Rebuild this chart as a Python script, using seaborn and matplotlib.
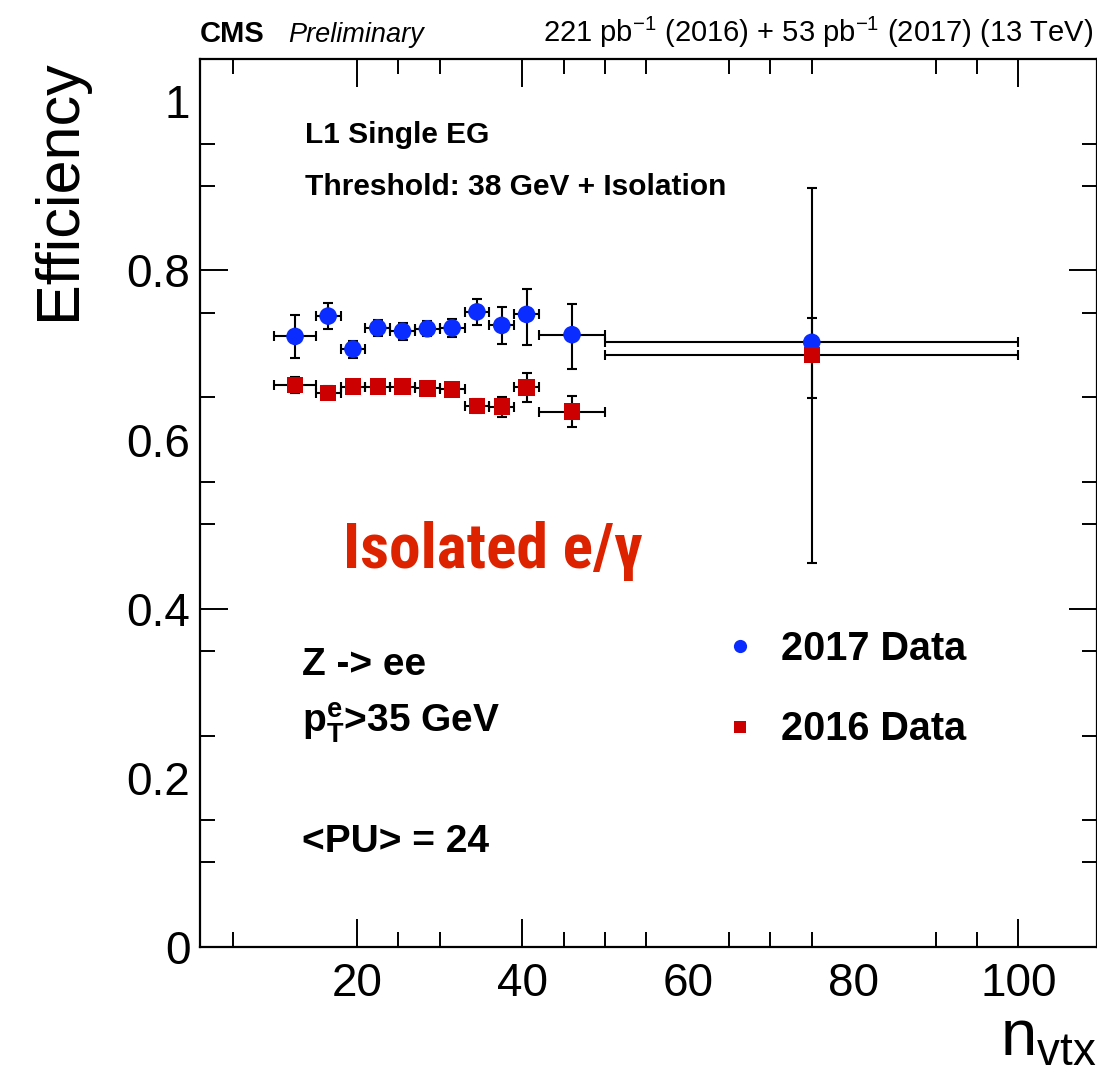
import matplotlib
matplotlib.use("Agg")
import matplotlib.pyplot as plt
from matplotlib import font_manager
from matplotlib.font_manager import FontProperties
from matplotlib.lines import Line2D
from matplotlib.ticker import FixedLocator, NullFormatter
import seaborn as sns
import numpy as np
import pandas as pd

# ---- data: L1 single EG efficiency vs number of reconstructed vertices ----
bin_lo = [10, 15, 18, 21, 24, 27, 30, 33, 36, 39, 42, 50]
bin_hi = [15, 18, 21, 24, 27, 30, 33, 36, 39, 42, 50, 100]

eff_2017 = [0.722, 0.746, 0.707, 0.732, 0.728, 0.731, 0.732, 0.751, 0.735, 0.748, 0.724, 0.715]
err_lo_2017 = [0.025, 0.015, 0.010, 0.009, 0.010, 0.009, 0.011, 0.015, 0.022, 0.036, 0.041, 0.261]
err_hi_2017 = [0.025, 0.015, 0.010, 0.009, 0.010, 0.009, 0.011, 0.015, 0.022, 0.030, 0.036, 0.183]

eff_2016 = [0.6645, 0.6554, 0.6625, 0.6625, 0.6625, 0.6606, 0.6594, 0.6397, 0.6389, 0.6618, 0.633, 0.700]
err_lo_2016 = [0.009, 0.008, 0.007, 0.007, 0.007, 0.007, 0.008, 0.008, 0.012, 0.017, 0.018, 0.051]
err_hi_2016 = [0.009, 0.008, 0.007, 0.007, 0.007, 0.007, 0.008, 0.008, 0.012, 0.017, 0.018, 0.044]

series_names = ["2017 Data", "2016 Data"]
x_tick_values = [20, 40, 60, 80, 100]
x_tick_labels = ["20", "40", "60", "80", "100"]
y_tick_values = [0, 0.2, 0.4, 0.6, 0.8, 1.0]
y_tick_labels = ["0", "0.2", "0.4", "0.6", "0.8", "1"]

# ---- style ----
sns.set_theme(style="ticks")
plt.rcParams["font.family"] = ["Liberation Sans", "DejaVu Sans"]
plt.rcParams["text.color"] = "black"
plt.rcParams["axes.labelcolor"] = "black"
plt.rcParams["xtick.color"] = "black"
plt.rcParams["ytick.color"] = "black"
plt.rcParams["mathtext.fontset"] = "custom"
plt.rcParams["mathtext.rm"] = "Liberation Sans"
plt.rcParams["mathtext.bf"] = "Liberation Sans:bold"
plt.rcParams["mathtext.it"] = "Liberation Sans:italic"

BLUE = "#0a2cff"
RED = "#cc0000"

W, H = 1097, 1072
fig = plt.figure(figsize=(W / 100, H / 100), dpi=100)
fig.patch.set_facecolor("white")
ax = fig.add_axes([200 / W, 125 / H, 897 / W, 888 / H])
ax.set_facecolor("white")

centers = [(lo + hi) / 2 for lo, hi in zip(bin_lo, bin_hi)]
xerr = [[c - lo for c, lo in zip(centers, bin_lo)], [hi - c for c, hi in zip(centers, bin_hi)]]

df = pd.DataFrame({
    "nvtx": centers * 2,
    "eff": eff_2017 + eff_2016,
    "dataset": [series_names[0]] * len(centers) + [series_names[1]] * len(centers),
})

err_kw = dict(fmt="none", ecolor="black", elinewidth=1.5, capsize=3.5, capthick=1.5, zorder=2)
ax.errorbar(centers, eff_2017, xerr=xerr, yerr=[err_lo_2017, err_hi_2017], **err_kw)
ax.errorbar(centers, eff_2016, xerr=xerr, yerr=[err_lo_2016, err_hi_2016], **err_kw)

sns.scatterplot(data=df[df.dataset == series_names[0]], x="nvtx", y="eff", color=BLUE,
                marker="o", s=160, edgecolor="none", legend=False, ax=ax, zorder=3)
sns.scatterplot(data=df[df.dataset == series_names[1]], x="nvtx", y="eff", color=RED,
                marker="s", s=140, edgecolor="none", legend=False, ax=ax, zorder=4)

ax.set_xlim(1, 109.5)
ax.set_ylim(0, 1.05)

# ---- axes and ticks ----
for sp in ax.spines.values():
    sp.set_visible(True)
    sp.set_linewidth(1.6)
    sp.set_color("black")

ax.xaxis.set_major_locator(FixedLocator(x_tick_values))
ax.set_xticklabels(x_tick_labels)
ax.xaxis.set_minor_locator(FixedLocator([5, 25, 30, 45, 50, 55, 65, 70, 75, 90, 95]))
ax.yaxis.set_major_locator(FixedLocator(y_tick_values))
ax.set_yticklabels(y_tick_labels)
ax.yaxis.set_minor_locator(FixedLocator([0.1, 0.15, 0.25, 0.35, 0.5, 0.55, 0.65, 0.75, 0.9, 0.95]))
ax.xaxis.set_minor_formatter(NullFormatter())
ax.yaxis.set_minor_formatter(NullFormatter())

ax.tick_params(which="both", direction="in", top=True, right=True, color="black", width=1.4)
ax.tick_params(which="major", length=20, labelsize=33, labelcolor="black")
ax.tick_params(which="minor", length=11)
ax.tick_params(axis="y", which="major", pad=7)
ax.tick_params(axis="x", which="major", pad=11)

for t, v in zip(ax.xaxis.get_major_ticks(), x_tick_values):
    if v in (60, 80):
        t.tick1line.set_visible(False)
        t.tick2line.set_visible(False)
for t, v in zip(ax.yaxis.get_major_ticks(), y_tick_values):
    if v in (0.2, 0.6, 1.0):
        t.tick1line.set_visible(False)
        t.tick2line.set_visible(False)

ax.set_ylabel("Efficiency", fontsize=44, loc="top")
ax.yaxis.set_label_coords(-0.125, 1.0)
ax.set_xlabel(r"n$_{\mathrm{vtx}}$", fontsize=47, loc="right")
ax.xaxis.set_label_coords(1.0, -0.068)

# ---- header ----
fig.text(200 / W, 1 - 42 / H, "CMS", fontsize=21, fontweight="bold", ha="left", va="baseline")
fig.text(288 / W, 1 - 42 / H, "Preliminary", fontsize=19.5, fontstyle="italic", ha="left", va="baseline")
fig.text(1093 / W, 1 - 42 / H,
         r"221 pb$^{\mathregular{-1}}$ (2016) + 53 pb$^{\mathregular{-1}}$ (2017) (13 TeV)",
         fontsize=21, ha="right", va="baseline")

# ---- annotations inside the frame ----
ax.text(0.117, 0.914, "L1 Single EG", transform=ax.transAxes, fontsize=21.5,
        fontweight="bold", ha="left", va="center")
ax.text(0.117, 0.856, "Threshold: 38 GeV + Isolation", transform=ax.transAxes, fontsize=21.5,
        fontweight="bold", ha="left", va="center")
ax.text(0.114, 0.306, "Z -> ee", transform=ax.transAxes, fontsize=28,
        fontweight="bold", ha="left", va="baseline")
ax.text(0.114, 0.242, r"$\mathbf{p}_{\mathbf{T}}^{\mathbf{e}}$>35 GeV", transform=ax.transAxes,
        fontsize=28, fontweight="bold", ha="left", va="baseline")
ax.text(0.114, 0.107, "<PU> = 24", transform=ax.transAxes, fontsize=28,
        fontweight="bold", ha="left", va="baseline")

# condensed bold face for the big label
def pick_condensed():
    prefs = ["Roboto Condensed", "Liberation Sans Narrow", "Open Sans Condensed",
             "DejaVu Sans Condensed", "Noto Sans Condensed"]
    found = []
    for f in font_manager.fontManager.ttflist:
        w = f.weight if isinstance(f.weight, int) else {"bold": 700}.get(str(f.weight), 400)
        cond = ("Condensed" in f.name or "Narrow" in f.name or
                str(f.stretch) in ("condensed", "semi-condensed", "extra-condensed", "ultra-condensed"))
        if cond and w >= 600 and f.style == "normal":
            found.append(f)
    for p in prefs:
        for f in found:
            if f.name == p:
                return FontProperties(fname=f.fname)
    if found:
        return FontProperties(fname=found[0].fname)
    return FontProperties(family="Liberation Sans", weight="bold")

title_fp = pick_condensed()
title_fp.set_size(62)
title = ax.text(0.1594, 0.4268, "Isolated e/γ", transform=ax.transAxes, fontproperties=title_fp,
                color="#dd2200", ha="left", va="baseline", zorder=5)
fig.canvas.draw()
tw = title.get_window_extent().width
if tw > 300:
    title_fp.set_size(62 * 300 / tw)
    title.set_fontproperties(title_fp)

# ---- legend ----
handles = [
    Line2D([], [], marker="o", linestyle="none", color=BLUE, markersize=9.5, markeredgewidth=0),
    Line2D([], [], marker="s", linestyle="none", color=RED, markersize=9, markeredgewidth=0),
]
leg = ax.legend(handles, series_names, loc="center left", bbox_to_anchor=(0.5797, 0.2905),
                frameon=False, fontsize=28.5, handlelength=1.0, handletextpad=0.55,
                labelspacing=1.08, borderpad=0, borderaxespad=0)
for txt in leg.get_texts():
    txt.set_fontweight("bold")
    txt.set_color("black")

fig.savefig("out.png", dpi=100, facecolor="white")
